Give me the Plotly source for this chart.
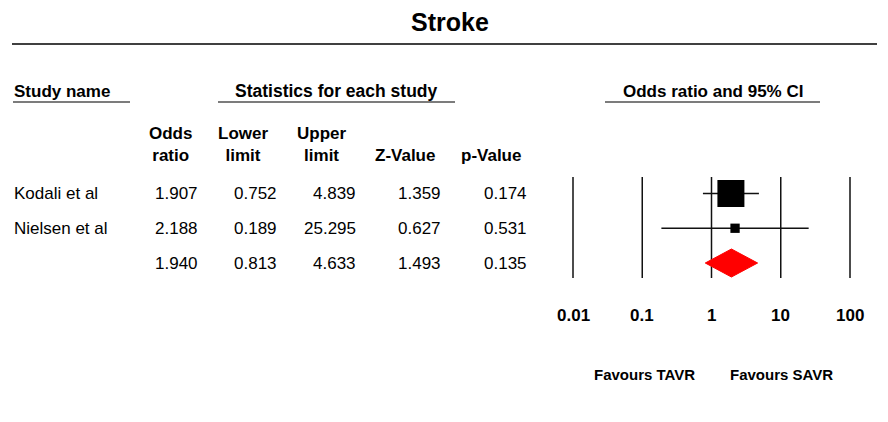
"""Forest plot: Stroke (TAVR vs SAVR), odds ratios with 95% CI."""
import math

import plotly.graph_objects as go

# ---- data ----
studies = ["Kodali et al", "Nielsen et al"]
odds_ratio = [1.907, 2.188]
lower_limit = [0.752, 0.189]
upper_limit = [4.839, 25.295]
z_value = [1.359, 0.627]
p_value = [0.174, 0.531]
rel_weight = [87.4, 12.6]  # relative weight (%), sets box size

summary_or = 1.940
summary_lower = 0.813
summary_upper = 4.633
summary_z = 1.493
summary_p = 0.135

axis_ticks = [0.01, 0.1, 1, 10, 100]
axis_tick_labels = ["0.01", "0.1", "1", "10", "100"]

# ---- page geometry (pixels, measured on the page) ----
W, H = 888, 422
OFF = 8  # page body margin
ROW0_PX, ROW_PX = 193.5, 34.75
FONT = "Liberation Sans, Arial, sans-serif"


def py(px):
    # page pixel row -> y-axis units (row index)
    return (px - ROW0_PX) / ROW_PX


def xp(px):
    # page pixel column -> paper fraction
    return (px - OFF) / W


# log axis: 0.01 at 573 px, 100 at 850 px (page coords)
DEC = (850 - 573) / 4
x_lo = -2 - (573 - OFF) / DEC
x_hi = 2 + (W + OFF - 850) / DEC

n = len(studies)
sum_row = n

fig = go.Figure()

# CI lines
for i in range(n):
    fig.add_trace(go.Scatter(
        x=[lower_limit[i], upper_limit[i]], y=[i, i], mode="lines",
        line=dict(color="#111111", width=1.5), hoverinfo="skip", showlegend=False,
    ))

# boxes
wmax = max(rel_weight)
fig.add_trace(go.Scatter(
    x=odds_ratio, y=list(range(n)), mode="markers",
    marker=dict(symbol="square", color="black", opacity=1,
                size=[27 * (w / wmax) ** 0.55 for w in rel_weight],
                line=dict(width=0)),
    text=studies, hoverinfo="text+x", showlegend=False,
))

# summary diamond
half = 14 / ROW_PX
fig.add_trace(go.Scatter(
    x=[summary_lower, summary_or, summary_upper, summary_or, summary_lower],
    y=[sum_row, sum_row - half, sum_row, sum_row + half, sum_row],
    mode="lines", fill="toself", fillcolor="#ff0000",
    line=dict(color="#ff0000", width=1), hoverinfo="skip", showlegend=False,
))

shapes = []
# vertical reference lines
for t in axis_ticks:
    shapes.append(dict(type="line", xref="x", yref="y", x0=t, x1=t,
                       y0=py(177), y1=py(278),
                       line=dict(color="#111111", width=1.5), layer="below"))
# title rule and header underlines
shapes.append(dict(type="line", xref="paper", yref="y", x0=xp(12), x1=xp(877),
                   y0=py(44), y1=py(44), line=dict(color="#404040", width=2)))
for a, b in [(13, 130), (218, 455), (605, 820)]:
    shapes.append(dict(type="line", xref="paper", yref="y", x0=xp(a), x1=xp(b),
                       y0=py(102), y1=py(102), line=dict(color="#505050", width=1.5)))

ann = []


def text(x, y, s, size=17, bold=False, anchor="center", xref="paper"):
    ann.append(dict(
        x=x, y=y, xref=xref, yref="y", text=f"<b>{s}</b>" if bold else s,
        showarrow=False, xanchor=anchor, yanchor="middle",
        font=dict(family=FONT, size=size, color="black"),
    ))


text(xp(449.5), py(22), "Stroke", size=25, bold=True)
text(xp(12), py(91), "Study name", bold=True, anchor="left")
text(xp(336.5), py(91), "Statistics for each study", size=17.5, bold=True)
text(xp(712.5), py(91), "Odds ratio and 95% CI", bold=True)

text(xp(170), py(144), "Odds<br>ratio", bold=True)
text(xp(243), py(144), "Lower<br>limit", bold=True)
text(xp(322), py(144), "Upper<br>limit", bold=True)
text(xp(405), py(155), "Z-Value", bold=True)
text(xp(491), py(155), "p-Value", bold=True)

col_right = [200, 279, 358, 443, 529]
rows = list(zip(odds_ratio, lower_limit, upper_limit, z_value, p_value))
rows.append((summary_or, summary_lower, summary_upper, summary_z, summary_p))
for i, vals in enumerate(rows):
    if i < n:
        text(xp(12), i, studies[i], anchor="left")
    for xr, v in zip(col_right, vals):
        text(xp(xr), i, f"{v:.3f}", anchor="right")

# annotations on a log axis take log10 positions
for t, lab in zip(axis_ticks, axis_tick_labels):
    text(math.log10(t), py(315), lab, bold=True, xref="x")

text(xp(644), py(374), "Favours TAVR", size=15, bold=True)
text(xp(781), py(374), "Favours SAVR", size=15, bold=True)

fig.update_layout(
    width=W, height=H,
    margin=dict(l=0, r=0, t=0, b=0),
    paper_bgcolor="white", plot_bgcolor="white",
    xaxis=dict(type="log", range=[x_lo, x_hi], domain=[0, 1], visible=False,
               fixedrange=True),
    yaxis=dict(range=[py(H + OFF), py(OFF)], domain=[0, 1], visible=False,
               fixedrange=True),
    shapes=shapes, annotations=ann,
    font=dict(family=FONT),
)

fig.write_html("out.html")
